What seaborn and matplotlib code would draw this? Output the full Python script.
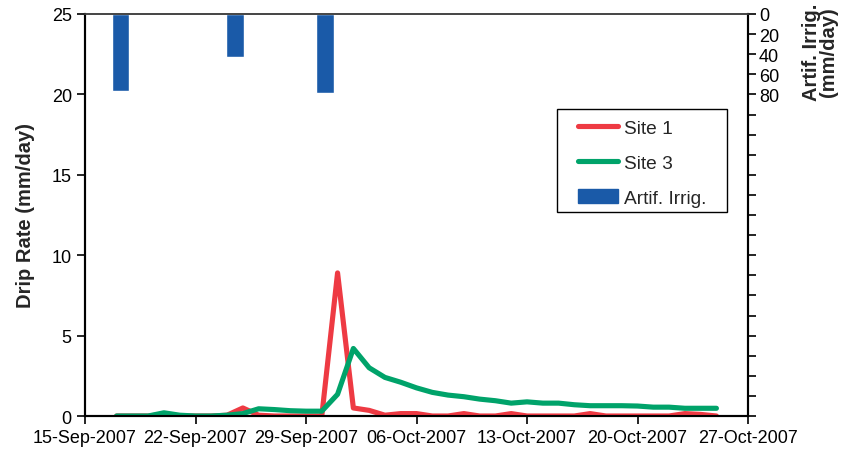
import matplotlib
matplotlib.use("Agg")
import matplotlib.pyplot as plt
import matplotlib.dates as mdates
from matplotlib.lines import Line2D
from matplotlib.patches import Patch, Rectangle
import numpy as np
import pandas as pd
import seaborn as sns

# Daily drip rates (mm/day), 17-Sep-2007 .. 25-Oct-2007
dates = pd.date_range("2007-09-17", "2007-10-25", freq="D")
site1 = [0, 0, 0, 0.1, 0, 0, 0, 0.05, 0.5, 0.05, 0, 0, 0, 0, 8.9, 0.5, 0.35, 0.05,
         0.15, 0.15, 0, 0, 0.15, 0, 0, 0.15, 0, 0, 0, 0, 0.15, 0, 0, 0, 0, 0,
         0.15, 0.1, 0]
site3 = [0, 0, 0, 0.2, 0.05, 0, 0, 0.05, 0.15, 0.45, 0.4, 0.33, 0.3, 0.3, 1.35,
         4.2, 3.0, 2.4, 2.1, 1.75, 1.47, 1.3, 1.2, 1.05, 0.95, 0.8, 0.88, 0.8,
         0.8, 0.7, 0.64, 0.64, 0.64, 0.62, 0.55, 0.55, 0.48, 0.48, 0.48]

# Artificial irrigation events (mm/day)
irrig_times = pd.to_datetime(["2007-09-17 06:00", "2007-09-24 12:00", "2007-09-30 05:00"])
irrig_amount = [77, 43, 79]

x_ticks = pd.date_range("2007-09-15", "2007-10-27", freq="7D")

RED = "#EE3A43"
GREEN = "#00A36A"
BLUE = "#1A5AA8"

df = pd.DataFrame({"date": dates, "Site 1": site1, "Site 3": site3})

sns.set_style("white")
plt.rcParams["font.family"] = ["Liberation Sans", "DejaVu Sans"]

W, H = 845, 452
L, R, T, B = 85, 748, 15, 417
fig = plt.figure(figsize=(W / 100, H / 100), dpi=100)
ax = fig.add_axes([L / W, 1 - B / H, (R - L) / W, (B - T) / H])


def ax_frac(px, py):
    return (px - L) / (R - L), (B - py) / (B - T)


sns.lineplot(data=df, x="date", y="Site 1", ax=ax, color=RED, lw=3.7,
             solid_capstyle="round")
sns.lineplot(data=df, x="date", y="Site 3", ax=ax, color=GREEN, lw=3.7,
             solid_capstyle="round")

ax.set_xlim(pd.Timestamp("2007-09-15"), pd.Timestamp("2007-10-27"))
ax.set_ylim(0, 25)
ax.set_yticks([0, 5, 10, 15, 20, 25])
ax.set_xticks(x_ticks)
ax.xaxis.set_major_formatter(mdates.DateFormatter("%d-%b-%Y"))
ax.set_xlabel("")
ax.set_ylabel("Drip Rate (mm/day)", fontsize=14.5, fontweight="bold", labelpad=12)
ax.tick_params(axis="both", labelsize=13, length=6, width=1.2, direction="out",
               colors="black", left=True, bottom=True)
for s in ax.spines.values():
    s.set_color("black")
    s.set_linewidth(1.5)
ax.spines["top"].set_color("#444444")
ax.spines["top"].set_linewidth(1.2)

# Irrigation bars on an inverted secondary axis
ax2 = ax.twinx()
ax2.bar(irrig_times, irrig_amount, width=1.1, color=BLUE, align="center")
ax2.set_ylim(400, 0)
ticks2 = np.arange(0, 401, 20)
ax2.set_yticks(ticks2)
ax2.set_yticklabels([str(t) if t <= 80 else "" for t in ticks2])
ax2.tick_params(axis="y", labelsize=13, length=6, width=1.2, direction="out",
                colors="black", right=True, pad=2)
for s in ax2.spines.values():
    s.set_color("black")
    s.set_linewidth(1.5)
ax2.spines["top"].set_color("#444444")
ax2.spines["top"].set_linewidth(1.2)
fig.text(820 / W, 1 - 52 / H, "Artif. Irrig.\n(mm/day)", fontsize=14.5,
         fontweight="bold", rotation=90, ha="center", va="center",
         multialignment="center", linespacing=0.85)

# Legend: entries without frame, plus a separate box around them
handles = [
    Line2D([0], [0], color=RED, lw=3.7, solid_capstyle="round"),
    Line2D([0], [0], color=GREEN, lw=3.7, solid_capstyle="round"),
    Patch(facecolor=BLUE, edgecolor=BLUE),
]
leg = ax.legend(handles, ["Site 1", "Site 3", "Artif. Irrig."],
                loc="upper left", bbox_to_anchor=ax_frac(578, 120),
                borderaxespad=0, borderpad=0, frameon=False, fontsize=13.8,
                handlelength=2.1, handleheight=0.75, labelspacing=0.9,
                handletextpad=0.3)
leg.set_zorder(10)
bx0, by0 = ax_frac(557, 213)
bx1, by1 = ax_frac(727, 110)
ax.add_patch(Rectangle((bx0, by0), bx1 - bx0, by1 - by0, transform=ax.transAxes,
                       facecolor="white", edgecolor="black", lw=1.0, zorder=9))
ax.set_zorder(ax2.get_zorder() + 1)
ax.patch.set_visible(False)

fig.savefig("out.png", dpi=100)
